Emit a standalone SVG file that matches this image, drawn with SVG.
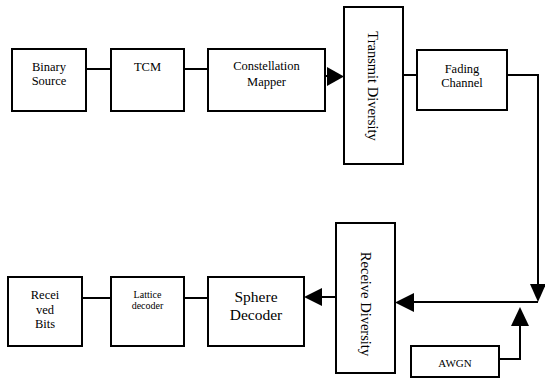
<svg xmlns="http://www.w3.org/2000/svg" width="545" height="383" viewBox="0 0 545 383" font-family="'Liberation Serif','Times New Roman',serif">
<style>
.box{fill:#fff;stroke:#000;stroke-width:2}
.ln{fill:none;stroke:#000;stroke-width:2}
.ah{fill:#000;stroke:none}
text{font-family:"Liberation Serif","Times New Roman",serif;fill:#000;text-anchor:middle}
.t12{font-size:12.5px}
.t10{font-size:10px}
.t15{font-size:15.5px}
.t14{font-size:14.5px}
.t11{font-size:11px}
</style>
<rect width="545" height="383" fill="#fff"/>
<g id="connectors">
<path class="ln" d="M86 69H111"/>
<path class="ln" d="M184 69H208"/>
<path class="ln" d="M325 76H328"/>
<polygon class="ah" points="327,67 344,76.5 327,86"/>
<path class="ln" d="M403 75H417"/>
<path class="ln" d="M507 75H538V285"/>
<polygon class="ah" points="530,284 546,284 538,302"/>
<path class="ln" d="M538 302H412"/>
<polygon class="ah" points="414,293 414,312 395,302.5"/>
<path class="ln" d="M499 359H520V324"/>
<polygon class="ah" points="511,326 529,326 520,307"/>
<path class="ln" d="M336 297H320"/>
<polygon class="ah" points="322,288 322,306 304,297"/>
<path class="ln" d="M184 298H208"/>
<path class="ln" d="M82 298H111"/>
</g>
<g id="binary-source">
<rect class="box" x="12" y="49" width="74" height="62"/>
<text class="t12" x="49" y="71">Binary</text>
<text class="t12" x="49" y="85">Source</text>
</g>
<g id="tcm">
<rect class="box" x="111" y="49" width="73" height="62"/>
<text class="t12" x="147.5" y="71">TCM</text>
</g>
<g id="constellation-mapper">
<rect class="box" x="208" y="49" width="117" height="62"/>
<text class="t12" x="266.5" y="70">Constellation</text>
<text class="t12" x="266.5" y="86">Mapper</text>
</g>
<g id="transmit-diversity">
<rect class="box" x="344" y="7" width="59" height="157"/>
<text class="t14" transform="translate(368,86) rotate(90)">Transmit Diversity</text>
</g>
<g id="fading-channel">
<rect class="box" x="417" y="50" width="90" height="60"/>
<text class="t12" x="462" y="73">Fading</text>
<text class="t12" x="462" y="87">Channel</text>
</g>
<g id="receive-diversity">
<rect class="box" x="336" y="223" width="59" height="150"/>
<text class="t14" transform="translate(361,304) rotate(90)">Receive Diversity</text>
</g>
<g id="awgn">
<rect class="box" x="411" y="346" width="88" height="31"/>
<text class="t11" x="455" y="367">AWGN</text>
</g>
<g id="sphere-decoder">
<rect class="box" x="208" y="277" width="96" height="69"/>
<text class="t15" x="256" y="302">Sphere</text>
<text class="t15" x="256" y="320">Decoder</text>
</g>
<g id="lattice-decoder">
<rect class="box" x="111" y="277" width="73" height="69"/>
<text class="t10" x="147.5" y="298">Lattice</text>
<text class="t10" x="147.5" y="309">decoder</text>
</g>
<g id="received-bits">
<rect class="box" x="8" y="277" width="74" height="69"/>
<text class="t12" x="45" y="299">Recei</text>
<text class="t12" x="45" y="314">ved</text>
<text class="t12" x="45" y="328">Bits</text>
</g>
</svg>
